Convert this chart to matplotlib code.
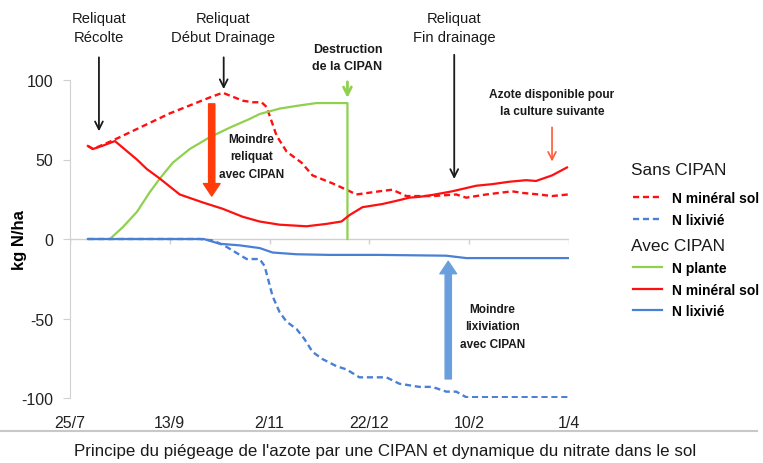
import matplotlib
matplotlib.use("Agg")
import matplotlib.pyplot as plt
from matplotlib.lines import Line2D

plt.rcParams["font.family"] = ["Liberation Sans", "DejaVu Sans"]
plt.rcParams["axes.unicode_minus"] = False

# Axe des temps : jours depuis le 25/7
tick_jours = [0, 50, 100, 150, 200, 250]
tick_labels = ["25/7", "13/9", "2/11", "22/12", "10/2", "1/4"]

# Sans CIPAN - N minéral sol
sans_min_j = [9, 11.5, 21.5, 50, 70, 76.5, 86.5, 91.5, 96, 98.5, 101, 103.5, 108.5, 116, 121.5,
              131.5, 138.5, 143.5, 155, 161.5, 168.5, 175, 181.5, 193.5, 198.5, 208.5, 221.5,
              226.5, 235, 241.5, 249.5]
sans_min_v = [58.5, 56.6, 62, 79, 89, 92, 87, 86, 86, 83, 74, 65, 55, 48, 40,
              35, 31, 28, 30, 31, 27, 27, 27, 28, 26, 28, 30,
              29, 28, 27, 28]

# Sans CIPAN - N lixivié
sans_lix_j = [9, 65, 72, 78.5, 88.5, 95, 97.5, 101.5, 105, 108.5, 113.5, 117.5, 121.5, 126.5,
              133.5, 138.5, 145, 158.5, 165, 175, 181.5, 188.5, 193.5, 198.5, 249.5]
sans_lix_v = [0, 0, -1, -5, -12.6, -12.6, -17, -36, -46, -52, -56.6, -63, -71, -75.5,
              -80, -82, -87, -87, -91, -93, -93, -96, -96, -99.5, -99.5]

# Avec CIPAN - N plante
avec_pl_j = [20, 26.5, 33.5, 40, 45, 51.5, 60, 70, 80, 90, 95, 105, 115, 123.5, 139, 139]
avec_pl_v = [0, 7.5, 17, 29.5, 38, 48, 56.6, 64, 70, 75.5, 78.6, 82, 84, 85.5, 85.5, 0]

# Avec CIPAN - N minéral sol
avec_min_j = [9, 11.5, 16, 22.5, 33.5, 38.5, 45, 55, 66.5, 76.5, 86.5, 95, 105, 118.5, 128.5,
              136, 140, 146.5, 156.5, 163.5, 170, 175, 181.5, 191.5, 203.5, 211.5, 220,
              228.5, 233.5, 241.5, 249]
avec_min_v = [58.5, 56.6, 58.5, 61.6, 50, 44, 38, 28, 23, 19, 14, 11, 9, 8, 9.5,
              11, 15, 20, 22, 24, 26, 26.5, 27.7, 30, 33.5, 34.5, 36,
              37, 36.5, 40, 45]

# Avec CIPAN - N lixivié
avec_lix_j = [9, 67, 75, 85, 95, 101.5, 113.5, 130, 155, 188.5, 198.5, 249.5]
avec_lix_v = [0, 0, -3, -4, -5.7, -8.5, -9.6, -10, -10, -10.5, -12, -12]

ROUGE = "#ff1010"
VERT = "#8fd14f"
BLEU = "#4a80d4"
GRIS = "#d0d0d0"
NOIR = "#1a1a1a"

fig = plt.figure(figsize=(7.63, 4.64), dpi=100)
ax = fig.add_axes([70 / 763, 65 / 464, 499 / 763, 318 / 464])

tirets = (0, (2.6, 1.6))
ax.plot(sans_min_j, sans_min_v, color=ROUGE, lw=1.7, linestyle=tirets)
ax.plot(sans_lix_j, sans_lix_v, color=BLEU, lw=1.7, linestyle=tirets)
ax.plot(avec_pl_j, avec_pl_v, color=VERT, lw=1.6)
ax.plot(avec_min_j, avec_min_v, color=ROUGE, lw=1.6)
ax.plot(avec_lix_j, avec_lix_v, color=BLEU, lw=1.6)

ax.set_xlim(0, 250)
ax.set_ylim(-100, 100)
for s in ["top", "right", "bottom"]:
    ax.spines[s].set_visible(False)
ax.spines["left"].set_color(GRIS)
ax.axhline(0, color=GRIS, lw=1, zorder=0)
ax.vlines(tick_jours, -3, 0, color=GRIS, lw=1, zorder=0)

ax.set_yticks([-100, -50, 0, 50, 100])
ax.tick_params(axis="y", labelsize=11.5, length=5, color=GRIS, labelcolor="#222222", pad=7)
ax.set_xticks(tick_jours)
ax.set_xticklabels(tick_labels)
ax.tick_params(axis="x", labelsize=11.5, length=0, labelcolor="#222222", pad=12)
ax.set_ylabel("kg N/ha", fontsize=12, fontweight="bold")
ax.yaxis.set_label_coords(-0.086, 0.5)

# annotations du haut
kw_t = dict(ha="center", va="center", fontsize=10.6, color=NOIR, clip_on=False, linespacing=1.45)
ax.text(14.5, 133, "Reliquat\nRécolte", **kw_t)
ax.text(76.5, 133, "Reliquat\nDébut Drainage", **kw_t)
ax.text(192.5, 133, "Reliquat\nFin drainage", **kw_t)

kw_b = dict(ha="center", va="center", fontweight="bold", color=NOIR, clip_on=False)
ax.text(139, 114, "Destruction\nde la CIPAN", fontsize=9, linespacing=1.55, **kw_b)
ax.text(241.5, 86, "Azote disponible pour\nla culture suivante", fontsize=8.6,
        linespacing=1.5, **kw_b)
ax.text(91, 52, "Moindre\nreliquat\navec CIPAN", fontsize=8.5, linespacing=1.6, **kw_b)
ax.text(211.5, -55, "Moindre\nlixiviation\navec CIPAN", fontsize=8.5, linespacing=1.6, **kw_b)

fleche = dict(arrowstyle="->", color=NOIR, lw=1.3, mutation_scale=14)
ax.annotate("", xy=(14.5, 66), xytext=(14.5, 116), arrowprops=fleche, annotation_clip=False)
ax.annotate("", xy=(77, 92.5), xytext=(77, 116), arrowprops=fleche, annotation_clip=False)
ax.annotate("", xy=(192.5, 36), xytext=(192.5, 117.6), arrowprops=fleche, annotation_clip=False)
ax.annotate("", xy=(139, 87), xytext=(139, 100.6),
            arrowprops=dict(arrowstyle="->", color=VERT, lw=2, mutation_scale=14),
            annotation_clip=False)
ax.annotate("", xy=(241.5, 47), xytext=(241.5, 72),
            arrowprops=dict(arrowstyle="->", color="#ff5a36", lw=1.2, mutation_scale=14))

# grosses flèches
grosse = "simple,head_width=1.2,head_length=0.9,tail_width=0.45"
ax.annotate("", xy=(71, 27), xytext=(71, 85),
            arrowprops=dict(arrowstyle=grosse, color="#ff3c0a", mutation_scale=10,
                            shrinkA=0, shrinkB=0))
ax.annotate("", xy=(189.5, -14), xytext=(189.5, -88),
            arrowprops=dict(arrowstyle=grosse, color="#6a9fdd", mutation_scale=10,
                            shrinkA=0, shrinkB=0))

# légendes
h_sans = [Line2D([], [], color=ROUGE, lw=1.7, linestyle=tirets),
          Line2D([], [], color=BLEU, lw=1.7, linestyle=tirets)]
h_avec = [Line2D([], [], color=VERT, lw=1.6),
          Line2D([], [], color=ROUGE, lw=1.6),
          Line2D([], [], color=BLEU, lw=1.6)]
kw_leg = dict(loc="upper left", frameon=False, borderpad=0, borderaxespad=0,
              handlelength=2.1, handletextpad=0.72, labelspacing=0.55,
              prop=dict(weight="bold", size=10))
fig.text(631 / 763, 1 - 171 / 464, "Sans CIPAN", fontsize=12.4, va="center", ha="left", color=NOIR)
fig.legend(h_sans, ["N minéral sol", "N lixivié"],
           bbox_to_anchor=(633 / 763, 1 - 192 / 464), **kw_leg)
fig.text(631 / 763, 1 - 247 / 464, "Avec CIPAN", fontsize=12.4, va="center", ha="left", color=NOIR)
fig.legend(h_avec, ["N plante", "N minéral sol", "N lixivié"],
           bbox_to_anchor=(633 / 763, 1 - 262 / 464), **kw_leg)

# trait de séparation + légende de figure
fig.add_artist(Line2D([0, 757 / 763], [1 - 432 / 464] * 2, color="#c8c8c8", lw=1.5))
fig.text(385 / 763, 1 - 452 / 464,
         "Principe du piégeage de l'azote par une CIPAN et dynamique du nitrate dans le sol",
         ha="center", va="center", fontsize=12.2, color=NOIR)

fig.savefig("out.png", dpi=100)
